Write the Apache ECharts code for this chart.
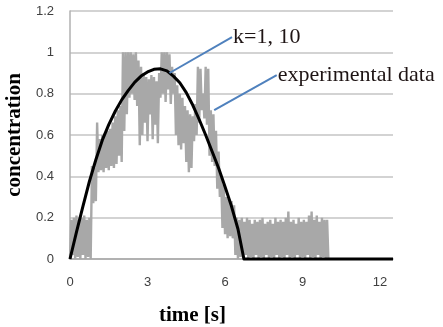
<!DOCTYPE html>
<html>
<head>
<meta charset="utf-8">
<script src="https://cdn.jsdelivr.net/npm/echarts@6/dist/echarts.min.js"></script>
<style>
html,body{margin:0;padding:0;background:#fff;}
#chart{width:443px;height:327px;}
</style>
</head>
<body>
<div id="chart"></div>
<script>
// ---- data ----
const expTime = [
  0.00,0.05,0.10,0.15,0.20,0.25,0.30,0.35,0.40,0.45,
  0.50,0.55,0.60,0.65,0.70,0.75,0.80,0.85,0.90,0.95,
  1.00,1.05,1.10,1.15,1.20,1.25,1.30,1.35,1.40,1.45,
  1.50,1.55,1.60,1.65,1.70,1.75,1.80,1.85,1.90,1.95,
  2.00,2.05,2.10,2.15,2.20,2.25,2.30,2.35,2.40,2.45,
  2.50,2.55,2.60,2.65,2.70,2.75,2.80,2.85,2.90,2.95,
  3.00,3.05,3.10,3.15,3.20,3.25,3.30,3.35,3.40,3.45,
  3.50,3.55,3.60,3.65,3.70,3.75,3.80,3.85,3.90,3.95,
  4.00,4.05,4.10,4.15,4.20,4.25,4.30,4.35,4.40,4.45,
  4.50,4.55,4.60,4.65,4.70,4.75,4.80,4.85,4.90,4.95,
  5.00,5.05,5.10,5.15,5.20,5.25,5.30,5.35,5.40,5.45,
  5.50,5.55,5.60,5.65,5.70,5.75,5.80,5.85,5.90,5.95,
  6.00,6.05,6.10,6.15,6.20,6.25,6.30,6.35,6.40,6.45,
  6.50,6.55,6.60,6.65,6.70,6.75,6.80,6.85,6.90,6.95,
  7.00,7.05,7.10,7.15,7.20,7.25,7.30,7.35,7.40,7.45,
  7.50,7.55,7.60,7.65,7.70,7.75,7.80,7.85,7.90,7.95,
  8.00,8.05,8.10,8.15,8.20,8.25,8.30,8.35,8.40,8.45,
  8.50,8.55,8.60,8.65,8.70,8.75,8.80,8.85,8.90,8.95,
  9.00,9.05,9.10,9.15,9.20,9.25,9.30,9.35,9.40,9.45,
  9.50,9.55,9.60,9.65,9.70,9.75,9.80,9.85,9.90,9.95,
  10.00
];
const expConc = [
  0,0.19,0.02,0.2,0,0.21,0.01,0.19,0,0.2,
  0.02,0.21,0,0.19,0.01,0.2,0,0.45,0.27,0.44,
  0.28,0.66,0.42,0.58,0.43,0.6,0.42,0.61,0.44,0.62,
  0.43,0.63,0.45,0.66,0.44,0.69,0.46,0.72,0.5,0.74,
  0.47,1.0,0.62,1.0,0.7,1.0,0.78,1.0,0.8,0.99,
  0.77,1.0,0.74,0.96,0.55,0.93,0.6,0.9,0.66,0.88,
  0.57,0.87,0.7,0.89,0.58,0.88,0.65,0.86,0.56,0.9,
  0.78,1.0,0.8,1.0,0.76,1.0,0.82,0.99,0.75,0.93,
  0.8,0.9,0.6,0.84,0.55,0.8,0.53,0.78,0.56,0.74,
  0.47,0.72,0.42,0.7,0.44,0.69,0.57,0.75,0.6,0.93,
  0.66,0.92,0.72,0.8,0.68,0.93,0.65,0.92,0.5,0.72,
  0.47,0.7,0.45,0.62,0.34,0.52,0.3,0.4,0.15,0.36,
  0.12,0.3,0.1,0.29,0.11,0.28,0.1,0.26,0.02,0.2,
  0,0.19,0.01,0.2,0,0.18,0.02,0.2,0,0.19,
  0.01,0.17,0,0.19,0.02,0.18,0,0.19,0.01,0.2,
  0,0.17,0.02,0.18,0,0.19,0.01,0.17,0,0.2,
  0.02,0.18,0,0.19,0.01,0.18,0,0.2,0.02,0.23,
  0,0.18,0.01,0.19,0,0.17,0.02,0.2,0,0.18,
  0.01,0.19,0,0.18,0.02,0.21,0,0.23,0.01,0.19,
  0,0.21,0.02,0.18,0,0.2,0.01,0.19,0,0.19,
  0
];
const fitTime = [0,0.25,0.5,0.75,1,1.25,1.5,1.75,2,2.25,2.5,2.75,3,3.25,3.5,3.75,4,4.25,4.5,4.75,5,5.25,5.5,5.75,6,6.25,6.5,6.73,12.5];
const fitConc = [0,0.13,0.255,0.375,0.48,0.575,0.65,0.715,0.77,0.815,0.855,0.885,0.905,0.918,0.92,0.91,0.885,0.853,0.805,0.745,0.675,0.6,0.52,0.44,0.35,0.255,0.145,0,0];

const xTicks = [0, 3, 6, 9, 12];
const yTicks = [0, 0.2, 0.4, 0.6, 0.8, 1, 1.2];

// annotation leader lines (data coordinates) and texts
const kLineTime = [3.85, 6.27];
const kLineConc = [0.90, 1.074];
const kLabel = 'k=1, 10';
const expLineTime = [5.58, 8.0];
const expLineConc = [0.72, 0.89];
const expLabel = 'experimental data';

const zip = (a, b) => a.map((v, i) => [v, b[i]]);

const chart = echarts.init(document.getElementById('chart'), null, {renderer: 'canvas'});
const labelFont = {fontFamily: 'Liberation Serif', fontSize: 22, color: '#1e1414'};
const option = {
  animation: false,
  grid: {left: 70, top: 11, right: 50, bottom: 68, containLabel: false, outerBoundsMode: 'none'},
  xAxis: {
    type: 'value', min: 0, max: 12.5, interval: 3,
    name: 'time [s]', nameLocation: 'middle', nameGap: 46,
    nameTextStyle: {fontFamily: 'Liberation Serif', fontWeight: 'bold', fontSize: 21, color: '#000', padding: [0, 78, 0, 0]},
    axisLine: {show: true, lineStyle: {color: '#a6a6a6', width: 1.5}},
    axisTick: {show: false},
    splitLine: {show: false},
    axisLabel: {
      margin: 17, fontFamily: 'Liberation Sans', fontSize: 13, color: '#404040',
      showMaxLabel: false,
      formatter: v => xTicks.includes(v) ? String(v) : ''
    }
  },
  yAxis: {
    type: 'value', min: 0, max: 1.2, interval: 0.2,
    name: 'concentration', nameLocation: 'middle', nameGap: 38,
    nameTextStyle: {fontFamily: 'Liberation Serif', fontWeight: 'bold', fontSize: 21, color: '#000'},
    axisLine: {show: true, lineStyle: {color: '#b0b0b0', width: 1.5}},
    axisTick: {show: false},
    splitLine: {show: true, lineStyle: {color: '#c4c4c4', width: 1.5}},
    axisLabel: {
      margin: 16, fontFamily: 'Liberation Sans', fontSize: 13, color: '#404040',
      formatter: v => {
        const t = yTicks.find(y => Math.abs(y - v) < 1e-6);
        return t === undefined ? '' : String(t);
      }
    }
  },
  series: [
    {
      name: 'experimental data', type: 'line', data: zip(expTime, expConc),
      showSymbol: false, symbol: 'none',
      lineStyle: {color: '#a8a8a8', width: 2.4, join: 'miter'}, z: 2
    },
    {
      name: 'k=1, 10', type: 'line', data: zip(fitTime, fitConc),
      showSymbol: false, symbol: 'none', smooth: false, clip: false,
      lineStyle: {color: '#000', width: 3, join: 'round'}, z: 3
    },
    {
      name: 'k leader', type: 'line', data: zip(kLineTime, kLineConc),
      showSymbol: false, symbol: 'none', clip: false, silent: true,
      lineStyle: {color: '#4f81bd', width: 2}, z: 4,
      endLabel: Object.assign({show: true, formatter: kLabel, distance: 1}, labelFont)
    },
    {
      name: 'exp leader', type: 'line', data: zip(expLineTime, expLineConc),
      showSymbol: false, symbol: 'none', clip: false, silent: true,
      lineStyle: {color: '#4f81bd', width: 2}, z: 4,
      endLabel: Object.assign({show: true, formatter: expLabel, distance: 1}, labelFont)
    }
  ]
};
chart.setOption(option);
</script>
</body>
</html>
